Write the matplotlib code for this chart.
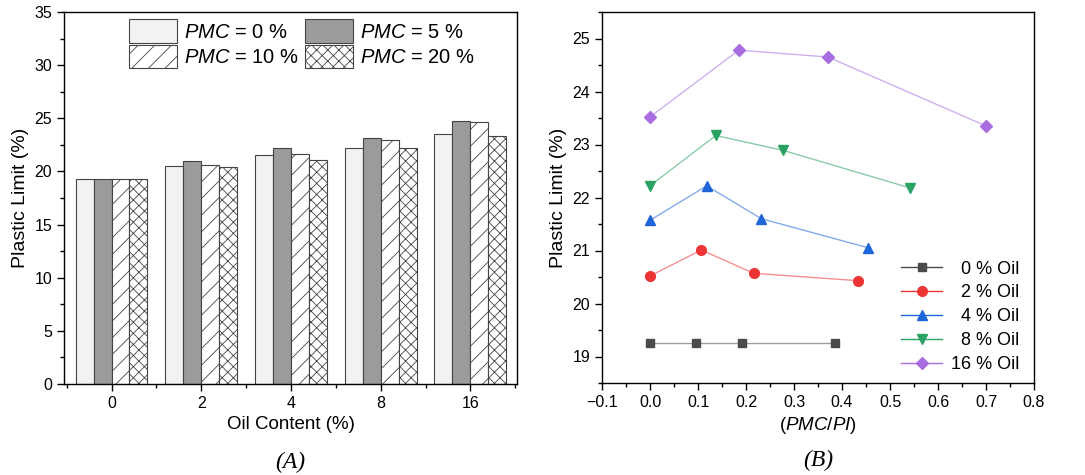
import numpy as np
import matplotlib.pyplot as plt
from matplotlib.ticker import MultipleLocator

plt.rcParams['font.family'] = ['Liberation Sans', 'DejaVu Sans']
plt.rcParams['mathtext.fontset'] = 'custom'
plt.rcParams['mathtext.rm'] = 'Liberation Sans'
plt.rcParams['mathtext.it'] = 'Liberation Sans:italic'

# (A) bar chart data
oil_labels = ['0', '2', '4', '8', '16']
pmc_labels = ['$\\it{PMC}$ = 0 %', '$\\it{PMC}$ = 5 %', '$\\it{PMC}$ = 10 %', '$\\it{PMC}$ = 20 %']
pl_pmc0 = [19.25, 20.54, 21.57, 22.24, 23.52]
pl_pmc5 = [19.25, 21.01, 22.24, 23.18, 24.79]
pl_pmc10 = [19.25, 20.59, 21.60, 22.91, 24.65]
pl_pmc20 = [19.25, 20.44, 21.06, 22.18, 23.36]

# (B) line chart data
oil_series = ['  0 % Oil', '  2 % Oil', '  4 % Oil', '  8 % Oil', '16 % Oil']
x_oil0 = [0.0, 0.096, 0.192, 0.385]
y_oil0 = [19.25, 19.25, 19.25, 19.25]
x_oil2 = [0.0, 0.107, 0.216, 0.434]
y_oil2 = [20.52, 21.01, 20.57, 20.43]
x_oil4 = [0.0, 0.118, 0.232, 0.455]
y_oil4 = [21.57, 22.22, 21.60, 21.05]
x_oil8 = [0.0, 0.137, 0.277, 0.542]
y_oil8 = [22.22, 23.17, 22.89, 22.18]
x_oil16 = [0.0, 0.185, 0.371, 0.700]
y_oil16 = [23.52, 24.78, 24.65, 23.35]

fig = plt.figure(figsize=(10.85, 4.75), dpi=100)
axA = fig.add_axes([64 / 1085, 1 - 384 / 475, 453 / 1085, 372 / 475])
axB = fig.add_axes([602 / 1085, 1 - 383 / 475, 432 / 1085, 371 / 475])

plt.rcParams['hatch.color'] = '#555555'
plt.rcParams['hatch.linewidth'] = 0.6

# ---- panel A ----
pos = np.arange(len(oil_labels))
w = 0.2
bar_styles = [
    dict(color='#f2f2f2', hatch=None),
    dict(color='#9b9b9b', hatch=None),
    dict(color='white', hatch='//'),
    dict(color='white', hatch='xxx'),
]
for i, (vals, lab, st) in enumerate(zip([pl_pmc0, pl_pmc5, pl_pmc10, pl_pmc20], pmc_labels, bar_styles)):
    axA.bar(pos + (i - 1.5) * w, vals, w, color=st['color'], hatch=st['hatch'],
            edgecolor='#444444', linewidth=0.8, label=lab)

axA.set_xlim(-0.53, 4.52)
axA.set_ylim(0, 35)
axA.set_xticks(pos)
axA.set_xticklabels(oil_labels)
axA.xaxis.set_minor_locator(MultipleLocator(0.5))
axA.yaxis.set_major_locator(MultipleLocator(5))
axA.yaxis.set_minor_locator(MultipleLocator(2.5))
axA.set_xlabel('Oil Content (%)', fontsize=13.5)
axA.set_ylabel('Plastic Limit (%)', fontsize=14)
h, l = axA.get_legend_handles_labels()
order = [0, 2, 1, 3]
axA.legend([h[k] for k in order], [l[k] for k in order], ncol=2, loc='upper center',
           bbox_to_anchor=(0.525, 1.018), frameon=False,
           fontsize=14.5, handlelength=2.4, handleheight=1.4, labelspacing=0.12,
           columnspacing=0.3, handletextpad=0.35, borderaxespad=0.3)

# ---- panel B ----
line_colors = ['#4a4a4a', '#ee3535', '#1f66d8', '#2aa263', '#a86ee0']
markers = ['s', 'o', '^', 'v', 'D']
msizes = [5.5, 7, 7.5, 7.5, 6]
xs = [x_oil0, x_oil2, x_oil4, x_oil8, x_oil16]
ys = [y_oil0, y_oil2, y_oil4, y_oil8, y_oil16]
for x, y, c, m, ms, lab in zip(xs, ys, line_colors, markers, msizes, oil_series):
    axB.plot(x, y, color=c, alpha=0.55, linewidth=1.0, zorder=2)
    axB.plot(x, y, linestyle='none', marker=m, markersize=ms, color=c, zorder=3)
    axB.plot([], [], color=c, marker=m, markersize=ms, linewidth=1.0,
             markeredgecolor=c, label=lab)

axB.set_xlim(-0.1, 0.8)
axB.set_ylim(18.5, 25.5)
axB.xaxis.set_major_locator(MultipleLocator(0.1))
axB.xaxis.set_minor_locator(MultipleLocator(0.05))
axB.yaxis.set_major_locator(MultipleLocator(1))
axB.yaxis.set_minor_locator(MultipleLocator(0.5))
axB.set_xticklabels([f'{v:.1f}'.replace('-', '\u2212') for v in axB.get_xticks()])
axB.set_xlabel('($\\it{PMC}$/$\\it{PI}$)', fontsize=13.5)
axB.set_ylabel('Plastic Limit (%)', fontsize=14)
leg = axB.legend(loc='lower right', frameon=False, fontsize=13, handlelength=2.3,
                 labelspacing=0.38, handletextpad=0.5, borderaxespad=0.15,
                 bbox_to_anchor=(0.99, 0.0))
for line in leg.get_lines():
    line.set_alpha(1)

for ax in (axA, axB):
    ax.tick_params(which='major', direction='out', length=5, width=1, labelsize=11.5)
    ax.tick_params(which='minor', direction='out', length=3, width=1)
    for s in ax.spines.values():
        s.set_linewidth(1.0)

fig.text(290 / 1085, 1 - 462 / 475, '(A)', family='Liberation Serif', style='italic',
         fontsize=17, ha='center', va='center')
fig.text(818 / 1085, 1 - 460 / 475, '(B)', family='Liberation Serif', style='italic',
         fontsize=17, ha='center', va='center')

fig.savefig('out.png', dpi=100)
